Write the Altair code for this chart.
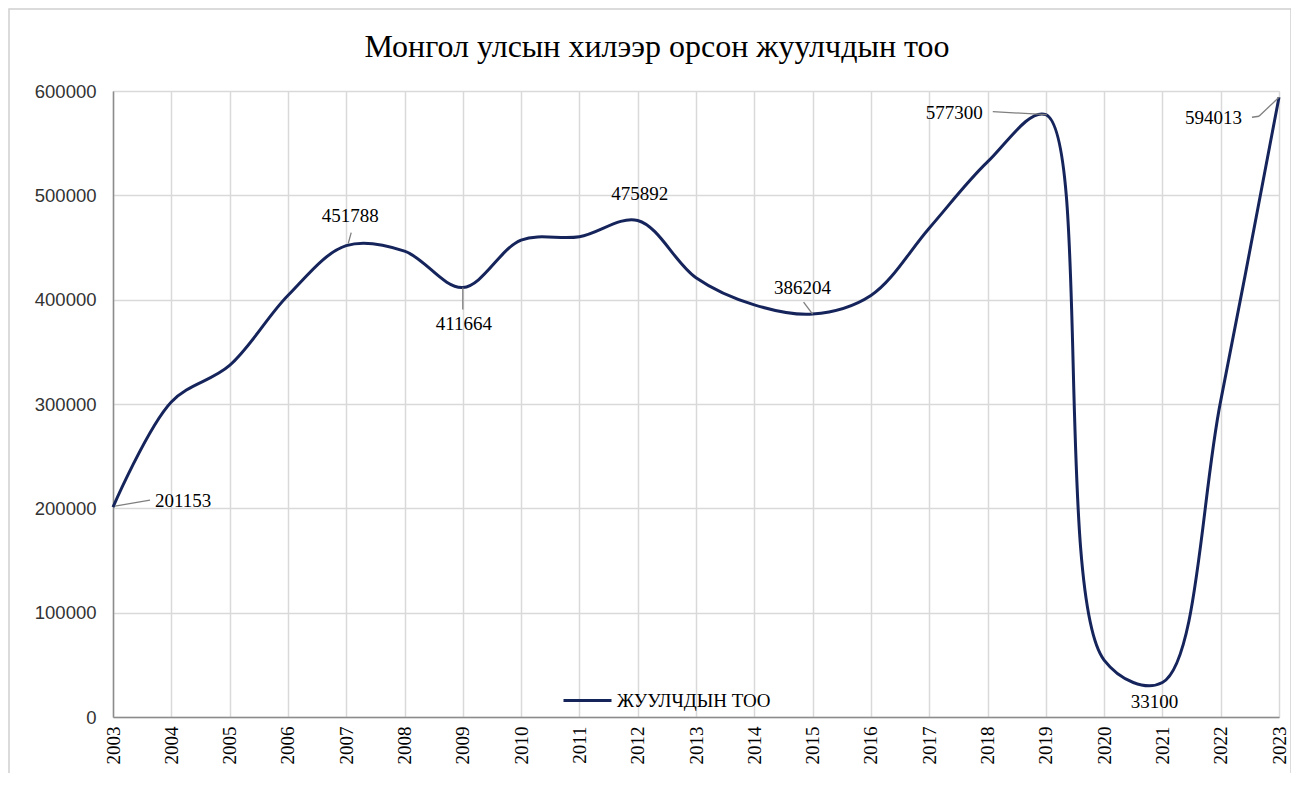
import altair as alt
import pandas as pd

years = list(range(2003, 2024))
visitors = [201153, 302000, 337000, 404000, 451788, 446500, 411664, 457000, 460300,
            475892, 421000, 395000, 386204, 404000, 468500, 532000, 577300, 54500,
            33100, 303000, 594013]
series_name = "ЖУУЛЧДЫН ТОО"
title_text = "Монгол улсын хилээр орсон жуулчдын тоо"
y_ticks = [0, 100000, 200000, 300000, 400000, 500000, 600000]

df = pd.DataFrame({"year": years, "value": visitors, "series": series_name})

W, H = 1166, 626
NAVY = "#16245c"
GRID = "#d9d9d9"
LEAD = "#7f7f7f"
SERIF = "Liberation Serif"

x_enc = alt.X("year:Q", scale=alt.Scale(domain=[2003, 2023], nice=False, zero=False),
              axis=alt.Axis(values=years, format="d", labelAngle=270, labelFont=SERIF,
                            labelFontSize=19, labelColor="#000", labelPadding=9,
                            ticks=False, domainColor="#8c8c8c", domainWidth=1.5,
                            gridColor=GRID, gridWidth=1.5, title=None))
y_enc = alt.Y("value:Q", scale=alt.Scale(domain=[0, 600000], nice=False),
              axis=alt.Axis(values=y_ticks, format="d", labelFont="Liberation Sans",
                            labelFontSize=18.5, labelColor="#333", labelPadding=17,
                            ticks=False, domainColor="#8c8c8c", domainWidth=1.5,
                            gridColor=GRID, gridWidth=1.5, title=None))

one = pd.DataFrame({"t": [title_text]})
frame = alt.Chart(one).mark_rect(
    fill=None, stroke="#d0d0d0", strokeWidth=1.5
).encode(x=alt.value(-104), x2=alt.value(W + 12), y=alt.value(-82), y2=alt.value(H + 60))

title = alt.Chart(one).mark_text(font=SERIF, fontSize=32, color="#000", align="center",
                                 baseline="alphabetic").encode(
    x=alt.value(544), y=alt.value(-34), text="t:N")

line = alt.Chart(df).mark_line(interpolate="catmull-rom", strokeWidth=3).encode(
    x=x_enc, y=y_enc,
    color=alt.Color("series:N", scale=alt.Scale(range=[NAVY]),
                    legend=alt.Legend(title=None, orient="none", legendX=449, legendY=584,
                                      symbolType="stroke", symbolSize=2304,
                                      symbolStrokeWidth=3, labelFont=SERIF,
                                      labelFontSize=19, labelColor="#000",
                                      labelOffset=4, padding=0))
)

# label placements: year -> (align, dx, dy, leader segments as pixel offsets)
label_specs = {
    2003: ("left", 42, -6, [(2, -1, 37, -7)]),
    2007: ("center", 4, -30, [(2, -2, 5, -13)]),
    2009: ("center", 1, 37, [(0, 0, 0, 22)]),
    2012: ("center", 2, -26, []),
    2015: ("center", -10, -26, [(-9, -12, 0, 0)]),
    2019: ("right", -63, -2, [(-53, -3, 1, 0)]),
    2021: ("center", -8, 20, []),
    2023: ("right", -37, 21, [(-27, 20, -20, 19), (-20, 19, 0, 0)]),
}

layers = [frame, title, line]
for yr, (align, dx, dy, segs) in label_specs.items():
    base = alt.Chart(df).transform_filter(alt.datum.year == yr)
    for (x1, y1, x2, y2) in segs:
        layers.append(base.mark_rule(color=LEAD, strokeWidth=1.3,
                                     xOffset=x1, yOffset=y1, x2Offset=x2, y2Offset=y2).encode(
            x="year:Q", y="value:Q", x2="year:Q", y2="value:Q"))
    layers.append(base.mark_text(align=align, baseline="middle", dx=dx, dy=dy, font=SERIF,
                                 fontSize=19, color="#000").encode(
        x="year:Q", y="value:Q", text=alt.Text("value:Q", format="d")))

chart = alt.layer(*layers).properties(
    width=W, height=H,
    autosize=alt.AutoSizeParams(type="none"),
    padding={"left": 105, "top": 83, "right": 12, "bottom": 56},
).configure_view(stroke=None).configure(background="white").configure_legend(
    labelFont=SERIF)

chart.save("out.html", embed_options={"renderer": "svg", "actions": False})
